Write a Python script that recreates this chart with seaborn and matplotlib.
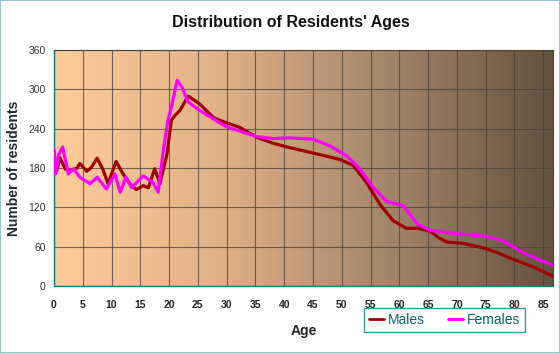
#Seaborn line chart + gradient background (age distribution by sex)

import numpy as np
import pandas as pd
import seaborn as sns
import matplotlib.pyplot as plt
from matplotlib.colors import LinearSegmentedColormap
from matplotlib.ticker import MultipleLocator
from matplotlib.lines import Line2D

#data
male_ages = [0, 0.5, 1, 2, 3, 4, 4.5, 5.7, 6.5, 7.5, 8.5, 9.4, 10.8, 12, 13.2, 14.3, 15.5,
             16.4, 17.5, 18.4, 19.6, 20.4, 21, 21.9, 23.3, 25.3, 27.7, 28.8, 30, 32.3,
             35.2, 38, 41, 45, 49.7, 52, 54.3, 56.6, 58.9, 61.2, 63.2, 65.3, 66.8, 68.2,
             71.1, 74.6, 77, 79.7, 83, 86.7]
male_counts = [204, 176, 196, 178, 176, 180, 187, 175, 181, 195, 178, 156, 190, 171, 156,
               147, 153, 150, 179, 156, 200, 253, 260, 268, 290, 278, 257, 253, 249, 242,
               227, 218, 211, 203, 193, 184, 158, 125, 100, 88, 88, 84, 74, 67,
               65, 58, 51, 41, 30, 15]

female_ages = [0, 0.3, 0.8, 1.5, 2.5, 3.4, 4.5, 6.25, 7.5, 9.1, 10.6, 11.5, 12.5, 13.5,
               15.5, 17.2, 18.1, 19.0, 19.8, 20.4, 21.4, 22.2, 23.3, 25.3, 28.8, 30, 32,
               35.2, 38.1, 41, 45, 47.9, 50.8, 53.1, 55.4, 57.8, 60.6, 63.2, 65.3, 69.9,
               75.1, 78, 81.5, 84, 86.7]
female_counts = [209, 171, 200, 212, 171, 179, 166, 156, 166, 148, 171, 143, 166, 150,
                 168, 158, 143, 207, 253, 273, 314, 304, 281, 268, 249, 243, 237,
                 228, 225, 226, 224, 214, 199, 179, 151, 129, 123, 94, 85, 80,
                 76, 69, 51, 41, 32]

df = pd.concat([
    pd.DataFrame({"Age": male_ages, "Residents": male_counts, "Sex": "Males"}),
    pd.DataFrame({"Age": female_ages, "Residents": female_counts, "Sex": "Females"}),
])

sns.set_style("white")
plt.rcParams["font.family"] = ["Liberation Sans", "DejaVu Sans"]

teal = "#008080"
fig = plt.figure(figsize=(5.6, 3.53), dpi=100)
fig.patch.set_facecolor("white")
fig.patches.append(plt.Rectangle((0, 0), 1, 1, transform=fig.transFigure, fill=False,
                                  edgecolor="#7fbfbf", linewidth=1.2))
ax = fig.add_axes([0.0964, 0.190, 0.891, 0.668])

#gradient background
xmax = 86.7
grad = LinearSegmentedColormap.from_list("bg", ["#ffcc99", "#e0b188", "#a4866a", "#64513f"])
ax.imshow(np.linspace(0, 1, 256).reshape(1, -1), cmap=grad, aspect="auto",
          extent=[0, xmax, 0, 360], zorder=0)

sns.lineplot(data=df, x="Age", y="Residents", hue="Sex", sort=False,
             palette={"Males": "#9e0000", "Females": "#ff00ff"},
             linewidth=2.3, ax=ax, zorder=3, legend=False)

ax.set_xlim(0, xmax)
ax.set_ylim(0, 360)
ax.xaxis.set_major_locator(MultipleLocator(5))
ax.xaxis.set_minor_locator(MultipleLocator(1))
ax.yaxis.set_major_locator(MultipleLocator(60))
ax.grid(True, which="major", color="#4a4038", linewidth=0.8, alpha=0.75)
for l in ax.get_xgridlines() + ax.get_ygridlines():
    l.set_zorder(1)

for s in ["left", "bottom"]:
    ax.spines[s].set_color(teal)
    ax.spines[s].set_linewidth(1)
for s in ["top", "right"]:
    ax.spines[s].set_color("#4a4038")
    ax.spines[s].set_linewidth(0.8)

ax.tick_params(axis="x", which="major", direction="out", length=5, color=teal,
               labelsize=7.5, labelcolor="#222222", pad=5)
ax.tick_params(axis="x", which="minor", direction="out", length=3, color=teal)
ax.tick_params(axis="y", direction="out", length=5, color=teal, labelsize=7.5,
               labelcolor="#333333", pad=1)
for t in ax.get_xticklabels():
    t.set_fontweight("bold")

ax.set_xlabel("Age", fontsize=10, fontweight="bold", labelpad=10)
ax.set_ylabel("Number of residents", fontsize=10, fontweight="bold", labelpad=5)
fig.text(0.52, 0.935, "Distribution of Residents' Ages", ha="center", va="center",
         fontsize=11.5, fontweight="bold", color="#111111")

#legend
handles = [Line2D([], [], color="#9e0000", linewidth=2),
           Line2D([], [], color="#ff00ff", linewidth=2)]
leg = fig.legend(handles, ["Males", "Females"], loc="center",
                 bbox_to_anchor=(0.794, 0.0935), ncol=2, frameon=True, fancybox=False,
                 fontsize=10, handlelength=1.1, handletextpad=0.3, columnspacing=1.6,
                 borderpad=0.35)
leg.get_frame().set_edgecolor(teal)
leg.get_frame().set_linewidth(1)
leg.get_frame().set_facecolor("white")
for t in leg.get_texts():
    t.set_color("#006666")

plt.savefig("out.png", dpi=100)
